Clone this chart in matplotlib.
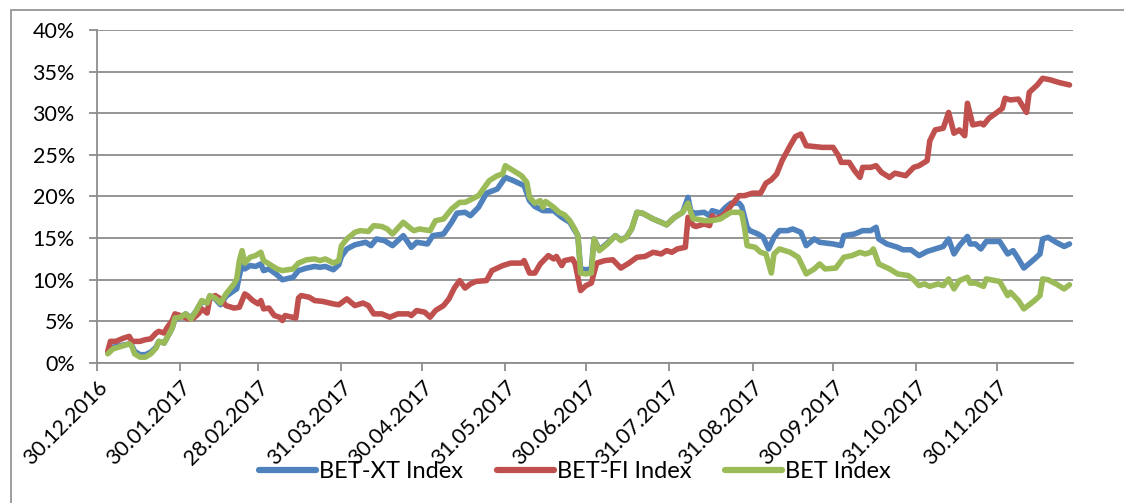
import numpy as np
import pandas as pd
import matplotlib
matplotlib.use("Agg")
import matplotlib.pyplot as plt
from matplotlib.patches import Rectangle

plt.rcParams['font.family'] = ['Lato', 'DejaVu Sans']

base_date = "2016-12-30"

# days since 30.12.2016 and returns in % for each index
bet_xt_days = [4, 6, 9, 12, 13, 14, 16, 18, 20, 22, 23, 25, 26, 28, 29, 31, 33, 35, 37, 39, 41, 42, 44, 46, 48,
               51, 52, 53, 54, 55, 57, 59, 61, 62, 64, 67, 69, 73, 75, 78, 81, 83, 85, 88, 90, 91, 93, 96, 100,
               102, 104, 107, 110, 114, 117, 119, 123, 125, 129, 132, 134, 137, 139, 142, 145, 149, 152, 155,
               159, 161, 163, 166, 170, 173, 176, 179, 180, 182, 184, 185, 187, 190, 193, 195, 197, 199, 201,
               203, 207, 210, 212, 215, 218, 220, 221, 222, 223, 226, 228, 229, 232, 234, 236, 239, 240, 242,
               243, 246, 248, 250, 252, 254, 257, 259, 262, 264, 267, 269, 274, 277, 278, 282, 285, 288, 290,
               291, 294, 298, 300, 303, 306, 309, 312, 315, 317, 319, 321, 324, 325, 327, 329, 331, 336, 339,
               341, 343, 345, 349, 351, 352, 354, 357, 360, 362]
bet_xt_vals = [1.3, 1.9, 2.1, 2.3, 2.1, 1.4, 1.0, 1.0, 1.3, 1.9, 2.6, 2.4, 3.0, 4.2, 5.3, 5.5, 5.9, 5.4, 6.3, 7.4,
               7.2, 8.0, 7.7, 7.0, 8.0, 8.7, 8.9, 10.5, 11.8, 11.3, 11.7, 11.6, 11.9, 11.1, 11.3, 10.6, 10.0,
               10.3, 11.1, 11.4, 11.6, 11.5, 11.6, 11.2, 11.8, 12.8, 13.7, 14.2, 14.5, 14.1, 14.9, 14.7, 14.1,
               15.3, 13.9, 14.5, 14.3, 15.3, 15.5, 16.9, 18.0, 18.1, 17.7, 18.7, 20.4, 20.9, 22.3, 21.9, 21.3,
               19.5, 18.8, 18.3, 18.3, 17.5, 16.9, 15.3, 11.3, 11.2, 11.3, 14.9, 13.6, 14.4, 15.3, 14.8, 15.1,
               16.1, 18.1, 18.0, 17.3, 16.9, 16.6, 17.5, 18.1, 19.9, 18.3, 18.0, 18.0, 18.1, 17.7, 18.3, 18.0,
               18.7, 19.2, 19.2, 18.8, 16.3, 15.9, 15.5, 15.1, 13.7, 15.1, 15.9, 15.9, 16.1, 15.7, 14.1, 14.9,
               14.5, 14.3, 14.1, 15.3, 15.5, 15.9, 15.9, 16.3, 14.9, 14.3, 13.9, 13.6, 13.6, 12.9, 13.4, 13.7,
               14.0, 14.9, 13.1, 14.1, 15.2, 14.3, 14.3, 13.7, 14.6, 14.6, 13.1, 13.5, 12.5, 11.4, 12.5, 13.1,
               14.9, 15.1, 14.5, 14.0, 14.3]

bet_fi_days = [4, 5, 7, 10, 12, 13, 16, 18, 20, 22, 23, 25, 26, 28, 29, 31, 34, 36, 38, 39, 41, 42, 44, 46, 48,
               51, 53, 55, 56, 58, 60, 61, 62, 64, 66, 68, 69, 70, 74, 75, 76, 79, 81, 84, 88, 90, 93, 96, 99,
               101, 103, 106, 109, 112, 116, 117, 119, 122, 124, 126, 129, 131, 133, 135, 137, 139, 141, 145,
               147, 151, 154, 158, 159, 161, 163, 165, 168, 170, 171, 173, 174, 177, 178, 180, 182, 184, 186,
               189, 192, 195, 198, 201, 204, 207, 210, 212, 214, 216, 219, 220, 222, 223, 226, 228, 229, 230,
               233, 235, 237, 239, 241, 244, 247, 249, 251, 253, 255, 257, 258, 260, 262, 264, 267, 270, 274,
               276, 277, 280, 282, 284, 285, 288, 290, 292, 295, 297, 301, 304, 306, 309, 310, 312, 315, 317,
               319, 321, 323, 324, 326, 329, 330, 332, 335, 337, 338, 340, 343, 346, 347, 350, 352, 355, 358, 362]
bet_fi_vals = [1.4, 2.6, 2.6, 3.0, 3.2, 2.6, 2.6, 2.8, 2.9, 3.6, 3.8, 3.6, 4.2, 5.1, 5.9, 5.7, 5.3, 5.4, 6.0, 6.5,
               6.0, 7.8, 8.1, 7.7, 6.9, 6.6, 6.7, 8.3, 8.1, 7.5, 7.1, 7.5, 6.5, 6.6, 5.7, 5.5, 5.1, 5.7, 5.4,
               7.8, 8.1, 7.9, 7.5, 7.4, 7.1, 7.0, 7.7, 6.9, 7.2, 6.9, 5.9, 5.9, 5.5, 5.9, 5.9, 5.7, 6.3, 6.1,
               5.5, 6.3, 6.9, 7.7, 9.0, 9.9, 9.0, 9.5, 9.8, 9.9, 11.1, 11.7, 12.0, 12.0, 12.3, 10.8, 10.8, 11.9,
               12.9, 12.5, 12.8, 11.7, 12.3, 12.5, 11.9, 8.7, 9.3, 9.6, 12.0, 12.3, 12.4, 11.4, 12.0, 12.7,
               12.8, 13.3, 13.1, 13.5, 13.3, 13.7, 13.9, 17.5, 16.5, 16.4, 16.7, 16.5, 17.7, 17.3, 17.7, 18.5,
               19.3, 20.1, 20.1, 20.4, 20.4, 21.6, 22.0, 22.7, 24.3, 25.5, 26.1, 27.2, 27.5, 26.1, 26.0, 25.9,
               25.9, 24.9, 24.1, 24.1, 23.1, 22.3, 23.5, 23.5, 23.7, 22.9, 22.3, 22.8, 22.5, 23.5, 23.7, 24.3,
               26.7, 28.0, 28.2, 30.1, 27.6, 28.0, 27.3, 31.2, 28.6, 28.8, 28.6, 29.4, 30.1, 30.6, 31.8, 31.6,
               31.7, 30.1, 32.5, 33.4, 34.2, 34.0, 33.7, 33.4]

bet_days = [4, 6, 9, 12, 13, 14, 16, 18, 20, 22, 23, 25, 26, 28, 29, 31, 33, 35, 37, 39, 41, 42, 44, 46, 48, 51,
            52, 53, 54, 55, 57, 59, 61, 62, 64, 67, 69, 73, 75, 78, 81, 83, 85, 88, 90, 91, 93, 96, 98, 101, 103,
            106, 108, 110, 114, 117, 118, 120, 124, 126, 129, 132, 135, 137, 139, 142, 146, 149, 151, 152, 155,
            158, 160, 161, 163, 165, 166, 167, 170, 172, 174, 176, 178, 179, 180, 182, 184, 185, 187, 190, 193,
            195, 197, 199, 201, 203, 207, 210, 212, 215, 218, 220, 221, 222, 223, 226, 229, 232, 234, 236, 239,
            240, 241, 242, 245, 247, 249, 251, 252, 254, 258, 261, 264, 267, 269, 271, 275, 278, 281, 284, 286,
            288, 289, 291, 295, 298, 302, 304, 306, 308, 310, 313, 315, 317, 319, 321, 324, 325, 327, 330, 331,
            336, 339, 340, 343, 345, 349, 351, 352, 354, 357, 360, 362]
bet_vals = [1.1, 1.7, 2.0, 2.3, 2.0, 1.1, 0.7, 0.7, 1.1, 1.8, 2.6, 2.4, 3.0, 4.2, 5.4, 5.5, 5.9, 5.3, 6.3, 7.5,
            7.2, 8.1, 7.8, 7.2, 8.3, 9.5, 10.1, 12.3, 13.5, 12.0, 12.7, 12.9, 13.3, 12.3, 11.9, 11.3, 11.1,
            11.3, 12.0, 12.4, 12.5, 12.3, 12.5, 12.0, 12.3, 14.1, 14.9, 15.7, 15.9, 15.8, 16.5, 16.4, 16.1,
            15.5, 16.9, 16.1, 15.9, 16.1, 15.9, 17.1, 17.3, 18.5, 19.3, 19.3, 19.6, 20.1, 21.9, 22.5, 22.7,
            23.7, 23.1, 22.5, 21.7, 19.9, 19.2, 19.5, 18.7, 19.4, 18.7, 18.1, 17.8, 17.1, 16.0, 15.3, 10.8,
            10.7, 10.8, 14.9, 13.5, 14.3, 15.3, 14.7, 15.1, 16.1, 18.1, 18.0, 17.3, 16.9, 16.6, 17.5, 18.1,
            19.2, 18.1, 17.3, 17.3, 17.1, 17.1, 17.3, 17.7, 18.1, 18.1, 18.0, 16.3, 14.1, 13.9, 13.3, 13.1,
            10.8, 13.1, 13.7, 13.3, 12.7, 10.7, 11.3, 11.9, 11.3, 11.4, 12.7, 12.9, 13.3, 13.1, 13.3, 13.7,
            11.9, 11.3, 10.7, 10.5, 10.0, 9.3, 9.5, 9.2, 9.5, 9.3, 10.1, 8.9, 9.9, 10.3, 9.6, 9.6, 9.2, 10.1,
            9.8, 8.1, 8.5, 7.5, 6.5, 7.5, 8.1, 10.1, 10.0, 9.5, 8.9, 9.4]

series_names = ["BET-XT Index", "BET-FI Index", "BET Index"]
series_colors = ["#4F81BD", "#C0504D", "#9BBB59"]

tick_dates = ["2016-12-30", "2017-01-30", "2017-02-28", "2017-03-31", "2017-04-30", "2017-05-31",
              "2017-06-30", "2017-07-31", "2017-08-31", "2017-09-30", "2017-10-31", "2017-11-30"]
y_ticks = [0, 5, 10, 15, 20, 25, 30, 35, 40]

base = pd.Timestamp(base_date)
def to_dates(days):
    return base + pd.to_timedelta(np.array(days), unit="D")

fig = plt.figure(figsize=(11.24, 5.03), dpi=100)
ax = fig.add_axes([97 / 1124, 1 - 363 / 503, (1073 - 97) / 1124, (363 - 30) / 503])

# outer chart border
fig.patches.append(Rectangle((11 / 1124, -0.01), 1.2, 1 - 10 / 503 + 0.01, transform=fig.transFigure,
                             fill=False, edgecolor="#8C8C8C", linewidth=1.2))

for days, vals, name, col in zip([bet_xt_days, bet_fi_days, bet_days],
                                 [bet_xt_vals, bet_fi_vals, bet_vals],
                                 series_names, series_colors):
    ax.plot(to_dates(days), vals, color=col, lw=4.0, label=name,
            solid_joinstyle="round", solid_capstyle="round")

ax.set_ylim(0, 40)
ax.set_xlim(base, base + pd.Timedelta(days=363.3))
ax.set_yticks(y_ticks)
ax.set_yticklabels([f"{v}%" for v in y_ticks])
ticks = pd.to_datetime(tick_dates)
ax.set_xticks(ticks)
ax.set_xticklabels([t.strftime("%d.%m.%Y") for t in ticks], rotation=45, ha="right",
                   rotation_mode="anchor")

ax.grid(axis="y", color="#8C8C8C", lw=1.3)
ax.set_axisbelow(True)
for s in ["top", "right"]:
    ax.spines[s].set_visible(False)
for s in ["left", "bottom"]:
    ax.spines[s].set_color("#8C8C8C")
    ax.spines[s].set_linewidth(1.3)
ax.tick_params(axis="both", colors="#8C8C8C", length=6, width=1.3, labelcolor="black", labelsize=15.5)
ax.tick_params(axis="x", pad=4)
ax.tick_params(axis="y", pad=10)

leg = fig.legend(loc="center", bbox_to_anchor=(575 / 1124, 1 - 472 / 503), ncol=3, frameon=False,
                 fontsize=17, handlelength=2.4, handletextpad=0.13, columnspacing=1.45)
for h in leg.get_lines():
    h.set_linewidth(4.5)

fig.savefig("out.png", dpi=100, facecolor="white")
